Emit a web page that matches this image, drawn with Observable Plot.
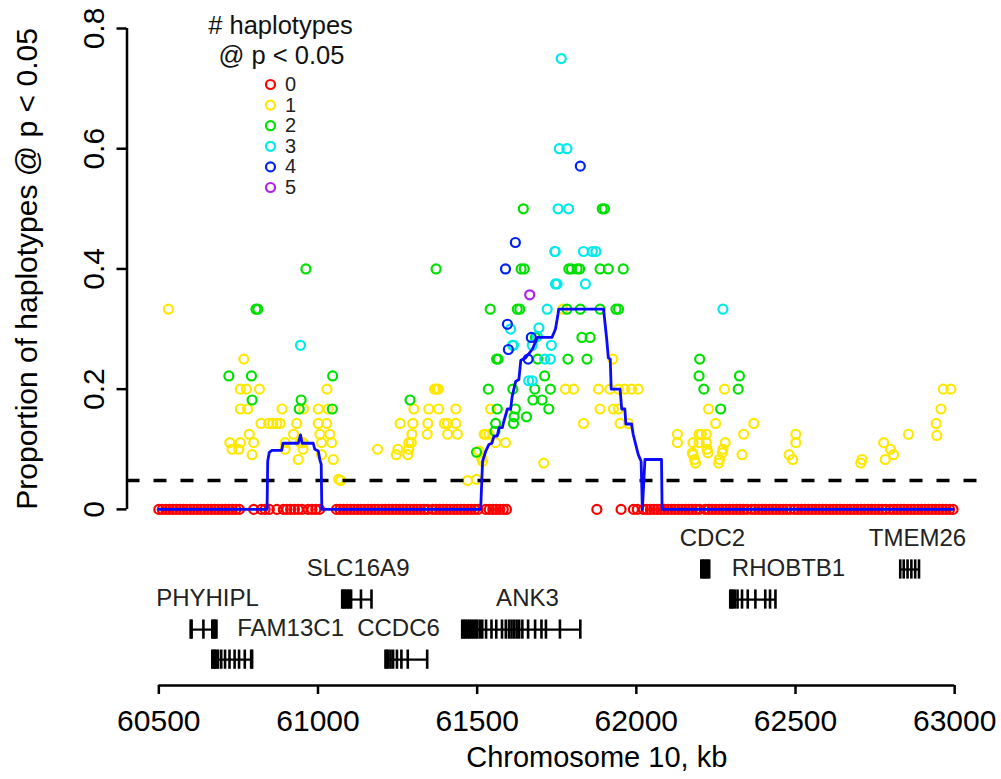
<!DOCTYPE html>
<html><head><meta charset="utf-8">
<script src="https://cdn.jsdelivr.net/npm/d3@7"></script>
<script src="https://cdn.jsdelivr.net/npm/@observablehq/plot@0.6"></script>
<style>body{margin:0;background:#fff;}</style>
</head><body><div id="chart"></div>
<script>
// ---------- data ----------
const xTicks = [60500, 61000, 61500, 62000, 62500, 63000];
const yTicks = [0, 0.2, 0.4, 0.6, 0.8];
const yTickLabels = ["0", "0.2", "0.4", "0.6", "0.8"];
const xTitle = "Chromosome 10, kb";
const yTitle = "Proportion of haplotypes @ p < 0.05";
const legendTitle = ["# haplotypes", "@ p < 0.05"];
const countLevels = [0, 1, 2, 3, 4, 5];
const countColors = ["#ff0000", "#ffe800", "#00e000", "#00eaea", "#0022f0", "#b020f0"];
const threshold = 0.048;

// haplotypes with 0 significant (all at proportion 0)
const pos0 = [60500,60511,60522,60533,60544,60555,60566,60577,60588,60599,60610,60621,60632,60643,60654,60665,60676,60687,60698,60709,60720,60731,60742,60753,
60798,60822,60834,60847,60871,60891,60902,60914,60926,60938,60950,60969,60981,60993,61005,
61058,61069,61080,61091,61102,61113,61124,61135,61146,61157,61168,61179,61190,61201,61212,61223,61234,61245,61256,61267,61278,61289,61300,61311,61322,61333,61344,61360,61371,61382,61393,61404,61415,61426,61437,61448,61459,61470,61481,61492,61503,
61527,61538,61549,61560,61571,61582,61592,
61876,61952,61991,62003,
62022,62033,62044,62055,62066,62077,62088,62099,62110,62121,62132,62143,62154,62165,62176,62187,62198,62216,62227,62238,62249,62260,62271,62282,62293,62304,62315,62326,62337,62348,62362,62373,62384,62395,62406,62417,62428,62439,62450,62461,62472,62483,62497,62508,62519,62530,62541,62552,62563,62574,62585,62596,62607,62618,62629,62640,62651,62662,62673,62684,62695,62706,62717,62728,62739,62750,62761,62772,62783,62797,62808,62819,62830,62841,62852,62863,62874,62885,62896,62907,62918,62929,62940,62951,62962,62973,62984,62995];

const pts1 = [[60530,0.333],[60767,0.25],[60756,0.2],[60775,0.2],[60816,0.2],[61028,0.2],
[60756,0.167],[60779,0.167],[60887,0.167],[60955,0.167],[61001,0.167],[61032,0.167],
[60821,0.143],[60845,0.143],[60858,0.143],[60871,0.143],[60881,0.143],[60933,0.143],[61001,0.143],[61027,0.143],
[60784,0.125],[60923,0.125],[61006,0.125],[61037,0.125],
[60723,0.111],[60756,0.111],[60798,0.111],[60897,0.111],[60944,0.111],[60953,0.111],[61011,0.111],[61043,0.111],
[60730,0.1],[60751,0.1],[60897,0.1],[60953,0.1],[60793,0.091],[61011,0.091],[60938,0.083],[61048,0.083],
[61065,0.05],[61071,0.048],[61187,0.1],
[61301,0.167],[61348,0.167],[61379,0.167],[61433,0.167],
[61258,0.143],[61298,0.143],[61345,0.143],[61397,0.143],[61407,0.143],[61433,0.143],
[61295,0.125],[61343,0.125],[61407,0.125],[61438,0.125],[61285,0.111],[61293,0.111],
[61251,0.1],[61285,0.1],[61246,0.091],[61282,0.091],[61366,0.2],[61372,0.2],[61378,0.2],
[61470,0.048],[61498,0.05],[61506,0.097],[61514,0.085],[61517,0.08],
[61522,0.125],[61527,0.125],[61537,0.125],[61542,0.167],[61558,0.111],[61589,0.111],[61709,0.077],
[61769,0.333],[61777,0.2],[61803,0.2],
[61881,0.2],[61917,0.2],[61944,0.2],[61964,0.2],[61985,0.2],[62006,0.2],
[61886,0.167],[61928,0.167],[61944,0.167],[61834,0.143],[61949,0.143],[61975,0.143],[61926,0.25],
[62277,0.2],[62227,0.167],[62249,0.143],[62369,0.143],
[62129,0.125],[62197,0.125],[62204,0.125],[62220,0.125],[62337,0.125],[62501,0.125],
[62129,0.111],[62178,0.111],[62197,0.111],[62220,0.111],[62279,0.111],[62501,0.111],[62777,0.111],
[62222,0.1],[62272,0.1],[62798,0.1],[62176,0.094],[62225,0.094],[62270,0.094],
[62178,0.091],[62332,0.091],[62480,0.091],[62808,0.091],
[62183,0.083],[62261,0.083],[62491,0.083],[62709,0.083],[62782,0.083],
[62186,0.077],[62259,0.077],[62705,0.077],
[62855,0.125],[62942,0.143],[62944,0.123],[62957,0.167],[62964,0.2],[62988,0.2]];

const pts2 = [[60805,0.333],[60811,0.333],[60962,0.4],[60720,0.222],[60791,0.222],[61046,0.222],
[60793,0.182],[60947,0.182],[60941,0.167],[61045,0.167],[61289,0.182],[61371,0.4],[61498,0.095],
[61541,0.333],[61626,0.333],[61634,0.333],[61782,0.333],[61824,0.333],[61886,0.333],[61936,0.333],[61944,0.333],
[61535,0.2],[61561,0.25],[61566,0.25],
[61638,0.4],[61648,0.4],[61788,0.4],[61796,0.4],[61814,0.4],[61822,0.4],[61886,0.4],[61912,0.4],[61959,0.4],
[61645,0.5],[61893,0.5],[61900,0.5],[61683,0.286],[61829,0.286],[61855,0.286],
[61690,0.25],[61785,0.25],[61845,0.25],[61712,0.222],[61612,0.2],[61681,0.2],[61730,0.2],
[61675,0.182],[61704,0.182],[61563,0.167],[61620,0.167],[61725,0.167],[61616,0.154],[61655,0.154],
[61558,0.143],[61614,0.143],[61556,0.13],
[62199,0.25],[62197,0.222],[62212,0.2],[62324,0.222],[62320,0.2],[62265,0.167]];

const pts3 = [[60945,0.273],[61605,0.3],[61614,0.273],[61611,0.273],[61662,0.214],[61673,0.214],
[61673,0.273],[61689,0.288],[61694,0.302],[61712,0.25],[61730,0.25],[61720,0.333],[61733,0.273],
[61746,0.375],[61744,0.429],[61751,0.375],[61840,0.375],[61745,0.429],[61834,0.429],[61862,0.429],[61873,0.429],
[61754,0.5],[61787,0.5],[61758,0.6],[61782,0.6],[61764,0.75],[62272,0.333]];

const pts4 = [[61589,0.4],[61620,0.444],[61824,0.571],[61595,0.308],[61598,0.266],[61670,0.286],[61660,0.25]];
const pts5 = [[61665,0.357]];

// running proportion line (blue)
const lineX = [60500,60840,60842,60847,60855,60886,60890,60938,60945,60950,60985,60990,61001,61006,61010,61012,
61511,61517,61527,61537,61546,61553,61563,61569,61579,61584,61595,61605,61610,61621,61631,61637,61652,61673,61689,61735,61746,61754,61756,
61897,61907,61912,61918,61921,61949,61954,61964,61967,61985,61990,62006,62015,62019,62027,62079,62081,62995];
const lineY = [0,0,0.08,0.095,0.098,0.098,0.11,0.11,0.124,0.11,0.11,0.1,0.097,0.082,0.075,0,
0,0.08,0.097,0.108,0.11,0.122,0.122,0.136,0.136,0.147,0.167,0.167,0.188,0.213,0.216,0.248,0.252,0.266,0.286,0.286,0.3,0.325,0.333,
0.333,0.283,0.252,0.25,0.2,0.2,0.167,0.167,0.142,0.142,0.125,0.091,0.08,0,0.083,0.083,0,0];

// genes
const geneNames = ["PHYHIPL","FAM13C1","SLC16A9","CCDC6","ANK3","CDC2","RHOBTB1","TMEM26"];
const geneStart = [60600,60668,61076,61212,61453,62204,62295,62829];
const geneEnd   = [60681,60793,61168,61343,61824,62229,62437,62888];
const geneRow   = [-0.2,-0.25,-0.15,-0.25,-0.2,-0.1,-0.15,-0.1];
const geneLabelX = [60653,60914,61126,61253,61658,62239,62478,62883];
const geneExons = [
  [60600,60603,60640,60668,60672,60676,60681],
  [60668,60672,60676,60681,60686,60696,60708,60722,60738,60752,60770,60790,60793],
  [61076,61080,61084,61089,61094,61099,61104,61135,61168],
  [61212,61216,61221,61228,61236,61248,61262,61282,61343],
  [61453,61458,61463,61469,61475,61481,61487,61494,61500,61508,61516,61528,61545,61560,61578,61590,61600,61608,61616,61624,61632,61642,61660,61682,61702,61716,61760,61824],
  [62204,62209,62214,62219,62224,62229],
  [62295,62299,62304,62310,62318,62332,62350,62374,62405,62420,62437],
  [62829,62840,62852,62864,62876,62888]
];

// ---------- build tables ----------
const haplo = [
  ...pos0.map(x => ({x, y: 0, n: 0})),
  ...pts1.map(([x, y]) => ({x, y, n: 1})),
  ...pts2.map(([x, y]) => ({x, y, n: 2})),
  ...pts3.map(([x, y]) => ({x, y, n: 3})),
  ...pts4.map(([x, y]) => ({x, y, n: 4})),
  ...pts5.map(([x, y]) => ({x, y, n: 5}))
];
const line = lineX.map((x, i) => ({x, y: lineY[i]}));
const genes = geneNames.map((name, i) => ({name, start: geneStart[i], end: geneEnd[i], row: geneRow[i], lx: geneLabelX[i]}));
const exons = geneExons.flatMap((ex, i) => ex.map(x => ({x, row: geneRow[i]})));

const fam = "Liberation Sans, Arial, Helvetica, sans-serif";
const exonHalf = 0.016;
const legendStep = 20.6;

const chart = Plot.plot({
  width: 1001, height: 779,
  marginLeft: 126.5, marginRight: 15, marginTop: 28, marginBottom: 94,
  x: {domain: [60400, 63100]},
  y: {domain: [-0.293, 0.8]},
  color: {type: "ordinal", domain: countLevels, range: countColors},
  style: {fontFamily: fam, background: "white", color: "black"},
  marks: [
    // axes
    Plot.ruleX([60400], {y1: yTicks[0], y2: yTicks[yTicks.length - 1], strokeWidth: 2.5}),
    Plot.axisY({ticks: yTicks, tickSize: 10, strokeWidth: 2.5, tickFormat: () => "", label: null}),
    Plot.text(yTicks, {y: d => d, text: (d, i) => yTickLabels[i], frameAnchor: "left", dx: -33, rotate: -90,
      fontSize: 30, textAnchor: "middle", lineAnchor: "middle"}),
    Plot.text([yTitle], {y: () => (yTicks[0] + yTicks[yTicks.length - 1]) / 2, text: d => d, frameAnchor: "left", dx: -100,
      rotate: -90, fontSize: 30, textAnchor: "middle", lineAnchor: "middle"}),
    Plot.ruleY([-0.293], {x1: xTicks[0], x2: xTicks[xTicks.length - 1], strokeWidth: 2.5}),
    Plot.axisX({ticks: xTicks, tickSize: 9, tickPadding: 15, strokeWidth: 2.5, fontSize: 30,
      tickFormat: d => String(d), label: null}),
    Plot.text([xTitle], {text: d => d, frameAnchor: "bottom", dx: 40, dy: 72, fontSize: 29, lineAnchor: "middle"}),
    // genes
    Plot.ruleY(genes, {y: "row", x1: "start", x2: "end", strokeWidth: 2.2}),
    Plot.ruleX(exons, {x: "x", y1: d => d.row - exonHalf, y2: d => d.row + exonHalf, strokeWidth: 2.6}),
    Plot.text(genes, {x: "lx", y: "row", text: "name", dy: -31, fontSize: 24, lineAnchor: "middle", fill: "#222"}),
    // points
    Plot.dot(haplo, {x: "x", y: "y", stroke: "n", r: 4.5, strokeWidth: 2.2, fill: "none"}),
    // threshold
    Plot.ruleY([threshold], {strokeWidth: 3.5, strokeDasharray: "13,14"}),
    // running line
    Plot.line(line, {x: "x", y: "y", stroke: "#0a0aff", strokeWidth: 2.8}),
    // legend
    Plot.text([legendTitle[0]], {text: d => d, frameAnchor: "top-left", dx: 153.5, dy: -3, fontSize: 25.5,
      textAnchor: "middle", lineAnchor: "middle", fill: "#111"}),
    Plot.text([legendTitle[1]], {text: d => d, frameAnchor: "top-left", dx: 154.5, dy: 27.5, fontSize: 25.5,
      textAnchor: "middle", lineAnchor: "middle", fill: "#111"}),
    ...countLevels.map((lv, i) => Plot.dot([lv], {frameAnchor: "top-left", dx: 143.5, dy: 56 + i * legendStep,
      r: 4.5, stroke: countColors[i], strokeWidth: 2.2, fill: "none"})),
    ...countLevels.map((lv, i) => Plot.text([String(lv)], {text: d => d, frameAnchor: "top-left", dx: 158, dy: 56 + i * legendStep,
      fontSize: 20, textAnchor: "start", lineAnchor: "middle", fill: "#222"}))
  ]
});
document.getElementById("chart").appendChild(chart);
</script></body></html>
